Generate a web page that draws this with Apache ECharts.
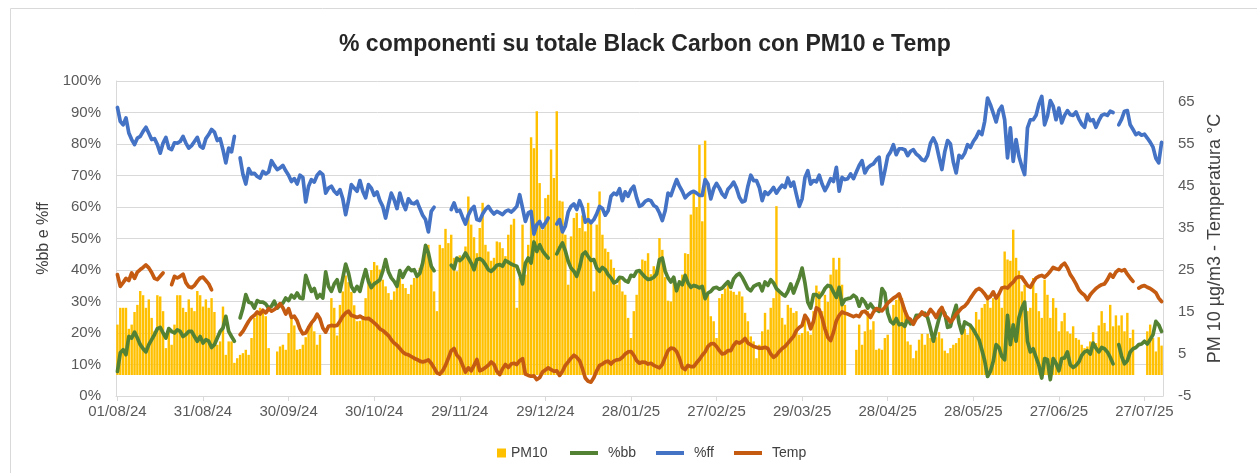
<!DOCTYPE html>
<html>
<head>
<meta charset="utf-8">
<script src="https://cdn.jsdelivr.net/npm/echarts@6/dist/echarts.min.js"></script>
<style>
html,body{margin:0;padding:0;background:#fff;}
#chart{width:1257px;height:473px;}
</style>
</head>
<body>
<div id="chart"></div>
<script>
const TITLE = '% componenti su totale Black Carbon con PM10 e Temp';
const LEFT_NAME = '%bb e %ff';
const RIGHT_NAME = 'PM 10 µg/m3 - Temperatura °C';
const SERIES_NAMES = ['PM10', '%bb', '%ff', 'Temp'];

// daily categories 01/08/24 .. 02/08/25
const DAY_COUNT = 367;
const categories = [];
(function () {
  const start = Date.UTC(2024, 7, 1);
  for (let i = 0; i < DAY_COUNT; i++) {
    const d = new Date(start + i * 86400000);
    const dd = String(d.getUTCDate()).padStart(2, '0');
    const mm = String(d.getUTCMonth() + 1).padStart(2, '0');
    const yy = String(d.getUTCFullYear()).slice(2);
    categories.push(dd + '/' + mm + '/' + yy);
  }
})();

const pm10 = [
12,16,16,16,11,12,15,16.7,20,19,
16,18,13.6,10.4,19,18.7,15.2,6.4,10.4,7.2,
12,19,19,16,15,18,16,15.2,20,19,
16.3,18,16,18.3,15,7.2,8,16.3,4.8,8,
8,2.9,4,4.8,5.2,6,4.8,8.8,13.6,15.2,
16,15.2,14,6.4,null,null,5.6,6.8,7.2,6,
10,13.4,11.8,6,6.2,7.2,9,11.6,12.6,10.4,
7.2,9.6,null,null,null,18.3,16,9.4,16.7,19.9,
23.7,22.1,19.8,16.6,12.8,12.9,13.7,18.3,23,25,
26.9,26.1,25.1,22.7,21.1,19.5,17.9,19.9,22.1,23.1,
21.7,20.7,19.3,21.5,23.1,24.3,25.5,26.7,29.4,31,
26.3,19.9,15.2,31,30.2,34.8,31.4,33.4,27.9,24.7,
28.5,27.5,30.6,42.5,35.8,32.8,29,35,41,31,
29.4,27.2,27.9,31.8,31.6,30.2,28.3,33.4,35.8,37.2,
16,23.1,35.8,23.9,31,56.6,54,62.8,45.7,34.6,
42.1,42.9,53.7,46.9,62.8,41.5,41.3,33.4,21.5,33,
37.4,38.6,35,38,34.2,41,36.6,19.9,35.8,43.7,
33.4,30.1,29.3,27.5,25.5,21.5,23.1,19.9,19.1,13.6,
8.8,15.2,19.1,24.3,27.5,27.2,29,24,25.9,25.1,
32.6,29.8,23.3,17.7,17.5,22.9,20.1,22.5,23.9,29,
28.8,38.2,44,40,54.8,36.6,55.8,19.1,14,12.8,
8.8,18.3,19.3,20.6,22,20.1,19.8,19.1,19.9,18.7,
14.8,12.8,9.2,8,4,7.2,10.4,14.8,10.8,16,
18.3,40.2,19.9,13.6,12,16.7,16,14.8,15.2,9.6,
10,13.4,10.4,9.6,15.2,21.3,19.9,15.2,19.1,17.4,
23.9,27.9,25.1,27.9,21.5,16.7,null,null,null,6,
12,7.2,10.4,15.2,10.8,12.8,6,6.3,6,8.8,
9.6,null,16.7,17.9,19.1,18.3,16,8,7.2,4,
5.8,8.4,9.8,7.2,9.8,8.8,9.1,9,10.2,8.7,
5.8,5.2,6.4,7.2,7.6,8.8,9.8,11,9.6,11.6,
10.6,15,13.2,16,16.9,19.1,16,18.3,18,19.1,
16,29.4,27.5,27.2,34.6,27.9,24.8,19.9,21.5,15.2,
16,23.1,19.5,15.2,13.6,22.7,19.1,13.6,18.3,16,
10.4,12.8,14.8,10.4,9.8,11.6,8.8,8.4,7.2,6.4,
6.8,8,10.2,7.6,11.8,15.2,12.4,10.4,16.7,11.6,
14.2,11.8,14.2,10.4,14.8,8.8,10.8,null,null,null,
null,10.4,12,8.8,5.6,9,7
];

const bb = [
7.8,13.7,14.7,13.1,18.9,18.4,20.3,18.4,16.3,15,
14,16.3,17.9,19.5,21.4,21.8,20,18.4,21.4,20.5,
20,21,20.5,18.9,19.5,20.5,20.5,18.9,17.4,18.9,
16.8,17.9,17.4,15.4,16.3,18.4,20.5,21.6,25.3,20.5,
18.9,17.4,null,24.8,27.9,32.2,29.8,29.5,27.9,30.3,
29.8,29.8,29.2,27.9,28.5,30.1,27.9,28.8,29.5,31.1,
30.3,32,31.1,32.7,31.1,30.9,38.3,35.6,33.2,34.1,
31.1,32.2,31.1,39.4,34.8,33.2,35.6,36.9,33.2,37.5,
41.9,39,34.8,33.2,34.8,33.2,36.9,40.1,36.3,34.4,
35.6,36.2,36.9,39.6,43.3,39.4,37.5,36.4,34.8,39.8,
37.7,39.6,40.8,39.8,40.1,38,39,42.2,47.8,45.4,
41.2,39.8,null,null,null,null,null,41.5,40.4,43.8,
43,43.8,45.4,43.8,42.2,40.1,43.3,43.6,43,41.7,
40.1,39.6,40.4,41.5,41.7,41.2,43,42.5,41.9,41.5,
41.2,38.7,35.6,42.2,43.8,42.2,48.9,45.9,48,46.1,
44.9,43.8,null,null,45.1,47,48.6,46.1,42.8,40.6,
39.6,38,40.8,44.9,45.7,44.3,43,43.3,40.6,39.6,
40.8,40.1,38.5,37.5,35.9,36.4,37.7,37.5,36.6,36.2,
38.3,38,39.6,39.8,38.7,37.7,37,37.2,37.7,38.7,
43.3,43.8,39.6,37.5,36.2,37.7,33.4,36.2,35.3,38.3,
35.9,34.5,35.1,34.8,34.3,34.8,30.9,32.7,33.2,34.3,
34.5,33.9,34.3,35.3,36.3,34.5,37.2,38.3,38.9,37.7,
35.9,34.1,33.4,34.8,35.3,35.6,33.4,36.2,35.1,36.9,
35.9,34.1,33.2,32.4,31.7,33.2,35.6,32.7,35.1,37.5,
40.6,35.9,29.8,27.9,32.2,32.2,31.3,32.4,34.1,35.1,
34.8,33,31.3,34.5,29,30.6,30.9,31.1,32,31.3,
28.5,30.9,29.8,27.9,29.2,27.9,27.4,26.9,34.1,32.7,
26.3,23.7,22.9,24.6,22.6,22.9,22.1,24.6,22.9,23.2,
25.6,25.6,26,26.3,24.8,21.4,17.4,21.1,24.6,27.4,
26.3,21.8,22.1,25.8,28.8,23.2,20,23.5,22.9,22.4,
21.1,19.5,17.9,14.7,11.2,6.2,7.8,11,16.3,15.4,
12.6,11.5,25.6,16.3,22.6,17.4,24.8,27.9,29.8,17.4,
14,15,12.3,9.7,5.7,11.9,11.5,5.2,11.9,10.4,
8,11.9,12.1,14,9.9,9.1,9.7,10.8,12.9,14,
14.4,13.3,16.8,15.2,14,15.4,15,14,12.3,10.2,
null,16.3,12.6,10.2,11.2,14,15,15.4,16.3,16.5,
17.4,16.5,17.9,19.5,23.7,22.6,20.5
];

const ff = [
91.6,87.2,86.1,88.3,83.5,81.4,79.8,81.9,82.4,84,
85.3,83.4,81.4,81.7,79.8,77.1,80.3,82.1,78.7,78.2,
80.4,80.3,80.8,82.4,80.3,78.7,79.5,80.8,82.1,79.3,
78.7,81.7,83,84.6,83.8,81.1,81.7,78.2,74,78.7,
77.5,82.4,null,75.6,70.3,67.3,72.2,70.5,70.7,69.7,
69.2,71.3,70.5,71.1,74.7,73.2,71.9,72.4,73.2,71.5,
70.1,68.1,69,67.3,70.1,69.4,61.6,66.6,68.7,67.9,
70.1,71.1,70.3,64.4,66,66.6,65,64.1,65.5,62.6,
57.6,62,67.1,66,65,68.4,65,62.9,67.1,66,
63.7,64.8,62,60.2,56.5,60.7,64.4,62.3,59.5,64.4,
61.3,59.2,62.6,61.3,61,61.8,59.5,57.4,56,52.1,
58.6,59.9,null,null,null,null,null,59.2,61.3,58.6,
59,56.7,54.6,57.4,59.2,60.2,56,55.7,57.8,59.2,
60.2,58.8,57.8,58.6,58.1,57.6,58.6,59,58.4,59.2,
60.2,63.9,59.7,55.4,58.1,58.6,51.4,54.4,55.4,53.5,
54.9,56.5,null,null,54.6,56,52.1,53.9,58.4,60.2,
61,59.2,62,59.7,55.2,56,55,56,57.8,60.2,
59.5,57.4,58.8,63.4,64.4,63.9,65.8,62,64.8,63.4,
65.5,66.6,62.9,60.2,60.7,61.8,62.3,62,60.5,59.9,
58.1,55.7,58.8,64.4,63.6,66.2,68.7,66.6,65,62.9,
63.9,64.6,65,64.4,63.7,63.7,68.7,67.3,62.6,65.8,
67.5,66,64.1,63.1,65.6,66.6,67.9,66,63.1,61.6,
62,66.6,70.1,68.4,68.4,66.2,62,64.8,64,65,
66.2,64.4,65.8,66.9,66.2,69.2,66.6,67.9,63.9,60.2,
62.6,69.4,71.5,67.3,68.4,68,70.1,67.3,65.2,66.9,
69,68.1,72.6,65,69.4,68.7,69,70.5,69,71.1,
73.2,74.7,70.8,72.4,73.2,73.7,75,75.8,67.3,71.5,
76.1,77.5,79.8,76.6,78.5,78.5,78.2,76.3,77.7,78.2,
76.8,76.1,75,74.7,76.4,80.3,81.9,80,75.8,71.9,
77.5,81.1,80,74.3,70.8,76.4,75.6,77.1,79.8,78.9,
80.8,82.1,84,83,87.2,94.6,92.5,89.8,87,90.6,
92,87.7,75.6,85.1,74.5,81.4,76.1,72.9,70.3,85.1,
87.7,87.7,89.1,92.7,95.1,86.1,88.8,93.8,92,87.7,
91.4,86.7,89.1,90.6,89.3,89.1,90.2,88,86.3,85.3,
89.4,87.4,87.7,85.3,87.4,89.1,89.5,89.1,90.4,90,
null,86.1,87.9,90.4,90.6,86.1,84.6,83,83.5,82.8,
83.1,81.9,80.6,79,75.5,74,80.5
];

const temp = [
23.9,21.1,22,23,22.5,24.3,23,24.5,25.1,25.6,
26.2,25.5,24.4,23,22.7,23.5,24.3,null,null,21.5,
23.5,23.1,23.5,24,22,21,20.8,21.3,22.3,23.1,
23.3,22.5,21.7,20.3,null,null,null,null,null,null,
null,null,null,9.6,10.4,11.6,12.8,13.7,14.2,15,
14.5,15.4,14.8,15.8,15.2,15.6,16.1,17,16,14.5,
15.8,13.7,14,12.9,11,9.8,10,11.3,12.4,13.2,
14.5,13.4,11.2,10.2,11.6,11.8,11.7,11.8,12.8,14,
14.8,15.2,14.2,14,13.7,14,13.6,13.4,13.5,13,
12.4,11.8,11,10.6,10,9.4,8.4,7.6,7.1,6.3,
5.5,5,4.8,4.4,4,3.7,3.3,3.1,3.3,3.6,
2.8,1.7,0.5,0.2,1,2.3,4,5.8,6.3,4.7,
4,2.3,0.7,1.7,1,2.3,3.7,1,1.3,1.8,
2.3,3.1,2.5,0.9,0.1,1.5,2.5,1.8,2.6,2.8,
2.5,3.4,3.9,0.2,-0.1,-0.3,-0.2,-1.1,-0.6,0.7,
1.2,1.7,1.3,0.9,1,-0.1,0.9,2.3,3.1,4,
4.7,4.2,3.4,1.5,-0.7,-1.5,-1.7,-0.6,1,2.3,
2.6,3.1,3.3,2.6,3.3,3.6,3.7,4.2,5,5.5,
5.6,4.7,3.4,2.8,3.1,3,2.6,2.8,2.3,2,
1.7,2.5,4.2,5.8,6.4,6.3,5.6,4,1.8,1.3,
2.3,2,2,2.9,3.7,4.7,5.5,6.8,7.4,7.5,
6.8,5.8,5,5.2,5.8,5.8,7.1,7.9,7.6,8,
8.7,7.6,7.2,6.8,6.6,6.4,6.4,6.6,6.3,5,
4.2,4.7,5.6,6.3,6.8,7.6,8.4,9.2,10.6,11.3,
11.8,14.2,13.2,11,12.8,16,15.6,13.6,11,9,
8.2,10.2,12.9,14.2,15,14.7,14.5,14.2,13.9,14.2,
13.9,15,15.2,14.5,13.7,15,15.8,15.6,15.3,16.1,
17.1,17.7,18.3,18.7,19.3,17.4,15.3,13.7,13.2,12.1,
13.4,14,15,14.2,14.4,15.6,14.8,13.7,15.2,16.1,
14.2,13.6,12.6,13.4,14.5,15.2,16,16.4,17.2,18.3,
19.3,20.2,20.6,20.1,19.3,18.2,18.7,19.8,18.3,19.3,
20.7,20.9,20.7,21.5,22.1,23.1,23.4,23.3,22.3,21.3,
20.9,22.1,23.1,23.5,23.7,23.3,23.9,24.7,25.6,25.3,
25.1,26.1,26.6,25.5,23.9,22.9,21.7,20.3,19.5,19,
17.9,19.1,19.9,20.6,21.1,21.5,21.7,22.7,24,23.3,
24.5,25.1,24.8,25.1,24,23.1,22.3,null,20.7,21.1,
21.3,20.9,20.6,20.1,19.6,18.3,17.5
];

const COLORS = { pm10: '#FFC000', bb: '#548235', ff: '#4472C4', temp: '#C55A11' };
const FONT = "'Liberation Sans', Arial, sans-serif";
const AXIS_TXT = '#595959';
const GRID_CLR = '#d9d9d9';

const chart = echarts.init(document.getElementById('chart'), null, { renderer: 'canvas' });

const lineSeries = (name, data, color, yIdx) => ({
  name: name, type: 'line', data: data, yAxisIndex: yIdx,
  symbol: 'none', showSymbol: false, connectNulls: false,
  lineStyle: { width: 3.7, color: color, cap: 'round', join: 'round' },
  itemStyle: { color: color }, z: 3
});

chart.setOption({
  animation: false,
  textStyle: { fontFamily: FONT },
  title: {
    text: TITLE, left: 334, top: 28,
    textStyle: { fontSize: 23, fontWeight: 'bold', color: '#262626', fontFamily: FONT }
  },
  legend: [
    { data: [SERIES_NAMES[0]], left: 497, top: 446, padding: 0, itemWidth: 9, itemHeight: 9,
      icon: 'rect', textStyle: { fontSize: 14, color: '#404040' } },
    { data: SERIES_NAMES.slice(1), left: 570, top: 446, padding: 0, itemWidth: 28, itemHeight: 4,
      icon: 'rect', itemGap: 20,
      textStyle: { fontSize: 14, color: '#404040', padding: [0, 0, 0, 5] } }
  ],
  grid: { left: 116, right: 94, top: 81, bottom: 77, containLabel: false },
  xAxis: {
    type: 'category', data: categories, boundaryGap: true,
    axisLine: { show: true, lineStyle: { color: GRID_CLR, width: 1 } },
    axisTick: { show: true, interval: 29, alignWithLabel: true, length: 5, lineStyle: { color: GRID_CLR } },
    axisLabel: { interval: 29, fontSize: 15, color: AXIS_TXT, margin: 8 },
    splitLine: { show: false }
  },
  yAxis: [
    {
      type: 'value', min: 0, max: 100, interval: 10, position: 'left',
      axisLabel: { formatter: '{value}%', fontSize: 15, color: AXIS_TXT, margin: 15 },
      axisLine: { show: true, lineStyle: { color: GRID_CLR } },
      axisTick: { show: false },
      splitLine: { show: true, lineStyle: { color: GRID_CLR, width: 1 } },
      name: LEFT_NAME, nameLocation: 'middle', nameRotate: 90, nameGap: 60,
      nameTextStyle: { fontSize: 16, color: '#404040' }
    },
    {
      type: 'value', min: -5, max: 70, interval: 10, position: 'right',
      axisLabel: { fontSize: 15, color: AXIS_TXT, margin: 15, showMaxLabel: false },
      axisLine: { show: true, lineStyle: { color: GRID_CLR } },
      axisTick: { show: false },
      splitLine: { show: false },
      name: RIGHT_NAME, nameLocation: 'middle', nameRotate: 90, nameGap: 43,
      nameTextStyle: { fontSize: 18, color: '#404040' }
    }
  ],
  series: [
    { name: SERIES_NAMES[0], type: 'bar', data: pm10, yAxisIndex: 1,
      barCategoryGap: '15%', itemStyle: { color: COLORS.pm10 }, z: 2 },
    lineSeries(SERIES_NAMES[1], bb, COLORS.bb, 0),
    lineSeries(SERIES_NAMES[2], ff, COLORS.ff, 0),
    lineSeries(SERIES_NAMES[3], temp, COLORS.temp, 1)
  ],
  graphic: [
    { type: 'rect', shape: { x: 10.5, y: 8.5, width: 1300, height: 500 },
      style: { fill: 'none', stroke: '#d9d9d9', lineWidth: 1 }, silent: true, z: -1 }
  ]
});
</script>
</body>
</html>
